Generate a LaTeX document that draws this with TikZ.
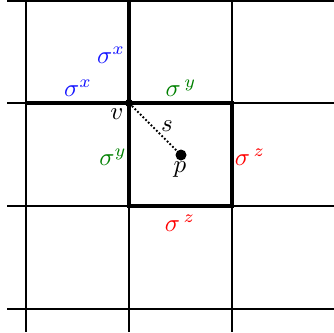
\documentclass[tikz,border=0pt]{standalone}
\begin{document}
\begin{tikzpicture}[x=1pt,y=-1pt,
  thin line/.style={line width=2pt},
  thick line/.style={line width=4.5pt},
  lbl/.style={inner sep=0pt,scale=2.5},
  dot/.style={circle,fill=black,inner sep=0pt,minimum size=#1}]
\useasboundingbox (0,0) rectangle (334,332);
\definecolor{sblue}{RGB}{20,20,255}
\definecolor{sgreen}{RGB}{0,128,0}
\definecolor{sred}{RGB}{255,0,0}
% thin grid
\foreach \x in {26,129,232} \draw[thin line] (\x,0) -- (\x,332);
\foreach \y in {1,103,206,309} \draw[thin line] (7,\y) -- (334,\y);
% thick edges
\draw[thick line] (129,0) -- (129,206);
\draw[thick line] (26,103) -- (232,103);
\draw[thick line, line cap=rect] (129,206) -- (232,206) -- (232,103);
% nodes
\node[dot=8pt] (v) at (129,103) {};
\node[dot=11pt] (p) at (181,155) {};
\draw[line width=1.8pt, dotted] (v) -- (p);
% labels
\node[lbl, text=sblue] at (111,55) {$\sigma^{x}$};
\node[lbl, text=sblue] at (78,88) {$\sigma^{x}$};
\node[lbl, text=sgreen] at (181,88) {$\sigma^{\,y}$};
\node[lbl] at (117,114) {$v$};
\node[lbl] at (167,126) {$s$};
\node[lbl] at (180,170) {$p$};
\node[lbl, text=sgreen] at (113,157) {$\sigma^{y}$};
\node[lbl, text=sred] at (250,157) {$\sigma^{\,z}$};
\node[lbl, text=sred] at (180,223) {$\sigma^{\,z}$};
\end{tikzpicture}
\end{document}
